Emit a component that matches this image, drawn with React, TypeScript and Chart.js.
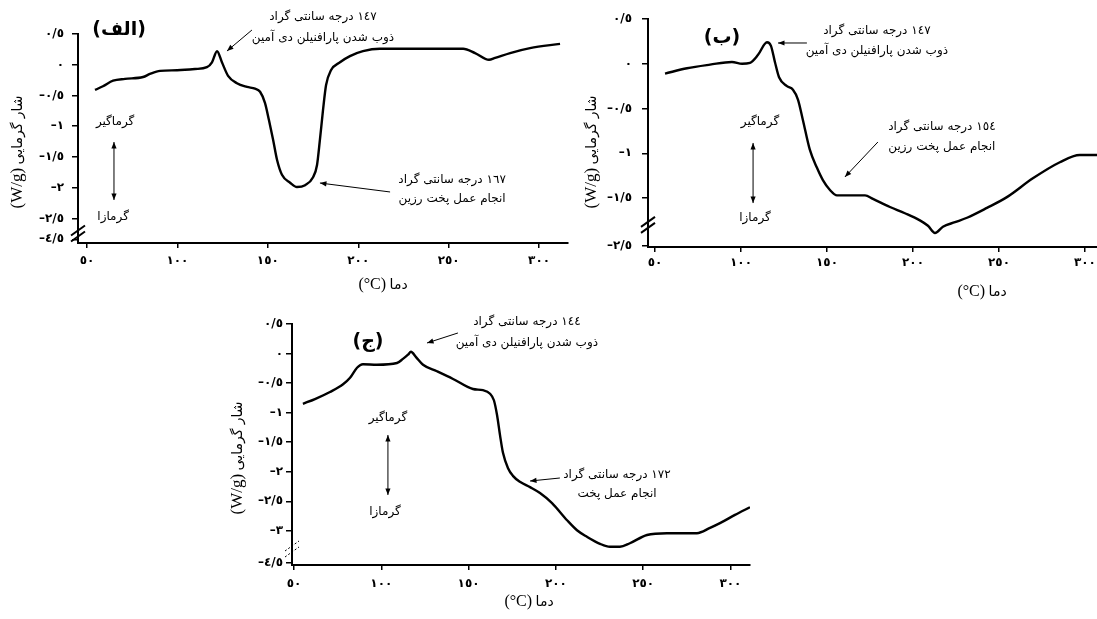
import React, { useEffect, useRef } from 'react';
import { Chart, registerables } from 'chart.js';

Chart.register(...registerables);

// ---------------- data ----------------
const tempA = [54.4, 58.8, 64.4, 71, 81, 84.8, 90.4, 99.8, 109.7, 116.3, 119.1, 121.9, 124.6, 128, 132.9, 138.5, 142.9, 145.7, 148.4, 150.6, 152.9, 155.1, 157.8, 162.3, 166.1, 170.6, 175, 177.2, 178.8, 180.5, 182.2, 184.9, 189.9, 195.4, 202.6, 212, 258, 264.6, 272.3, 275.7, 284, 295, 311.6];
const heatA = [-0.41, -0.35, -0.26, -0.23, -0.2, -0.15, -0.1, -0.09, -0.07, -0.04, 0.04, 0.22, 0.04, -0.18, -0.3, -0.36, -0.39, -0.44, -0.62, -0.9, -1.22, -1.55, -1.79, -1.92, -1.99, -1.96, -1.83, -1.63, -1.22, -0.74, -0.33, -0.09, 0.04, 0.14, 0.22, 0.26, 0.26, 0.19, 0.08, 0.11, 0.19, 0.27, 0.34];

const tempB = [55.8, 68.6, 82, 94.7, 100.6, 105.2, 109.9, 115.1, 117.4, 119.7, 122.1, 126.7, 130.2, 133.1, 136, 140, 144.1, 147.6, 151.7, 155.8, 169.2, 172.1, 176.7, 186.6, 195.3, 204, 208.7, 212.8, 217.4, 224.4, 231.4, 243, 254.6, 269.7, 285.4, 297, 307];
const heatB = [-0.11, -0.05, -0.01, 0.02, 0, 0.01, 0.1, 0.24, 0.2, 0.02, -0.15, -0.25, -0.29, -0.4, -0.63, -0.96, -1.16, -1.3, -1.41, -1.47, -1.47, -1.47, -1.51, -1.6, -1.67, -1.75, -1.81, -1.89, -1.82, -1.77, -1.72, -1.61, -1.49, -1.28, -1.1, -1.02, -1.02];

const tempC = [55.1, 62, 70.6, 78.1, 82.1, 86.1, 89.5, 97.5, 109, 112.4, 115.3, 117, 119.9, 123.9, 131.9, 141.1, 152.5, 158.2, 162.3, 164.5, 166.3, 168, 169.7, 172.6, 175.4, 179.4, 185.2, 190.9, 197.8, 206.4, 212.1, 217.8, 225.3, 231, 236.7, 242.4, 252.2, 263.6, 280.8, 288.3, 294, 302.6, 311.2];
const heatC = [-0.85, -0.77, -0.65, -0.52, -0.41, -0.24, -0.18, -0.19, -0.16, -0.09, -0.02, 0.03, -0.06, -0.19, -0.3, -0.43, -0.6, -0.62, -0.68, -0.79, -1.04, -1.38, -1.68, -1.94, -2.07, -2.17, -2.26, -2.36, -2.53, -2.82, -2.99, -3.1, -3.22, -3.27, -3.27, -3.21, -3.07, -3.04, -3.04, -2.95, -2.87, -2.73, -2.6];

const tempTicks = [50, 100, 150, 200, 250, 300];
const heatTicksA = [0.5, 0, -0.5, -1, -1.5, -2, -2.5];
const heatTicksB = [0.5, 0, -0.5, -1, -1.5];
const heatTicksC = [0.5, 0, -0.5, -1, -1.5, -2, -2.5, -3];
const breakLabelA = -4.5;
const breakLabelB = -2.5;
const breakLabelC = -4.5;

// ---------------- helpers ----------------
const AR_DIGITS = '٠١٢٣٤٥٦٧٨٩';
const toAr = (v: number) => {
  const s = String(Math.round(Math.abs(v) * 100) / 100).replace('.', '/');
  return (v < 0 ? '–' : '') + s.replace(/[0-9]/g, (c) => AR_DIGITS[+c]);
};

const SERIF = "'Liberation Serif', 'DejaVu Serif', serif";
const ARF = "'DejaVu Sans', sans-serif";

type Part = { text: string; font: string };

function drawRow(ctx: CanvasRenderingContext2D, parts: Part[], cx: number, cy: number) {
  const widths = parts.map((p) => {
    ctx.font = p.font;
    return ctx.measureText(p.text).width;
  });
  const total = widths.reduce((a, b) => a + b, 0);
  let x = cx - total / 2;
  ctx.textAlign = 'left';
  ctx.textBaseline = 'middle';
  ctx.direction = 'ltr';
  parts.forEach((p, i) => {
    ctx.font = p.font;
    ctx.fillText(p.text, x, cy);
    x += widths[i];
  });
}

function arrow(ctx: CanvasRenderingContext2D, x1: number, y1: number, x2: number, y2: number, both = false) {
  ctx.lineWidth = 1;
  ctx.beginPath();
  ctx.moveTo(x1, y1);
  ctx.lineTo(x2, y2);
  ctx.stroke();
  const head = (fx: number, fy: number, tx: number, ty: number) => {
    const a = Math.atan2(ty - fy, tx - fx);
    const L = 7;
    ctx.beginPath();
    ctx.moveTo(tx, ty);
    ctx.lineTo(tx - L * Math.cos(a - 0.38), ty - L * Math.sin(a - 0.38));
    ctx.lineTo(tx - L * Math.cos(a + 0.38), ty - L * Math.sin(a + 0.38));
    ctx.closePath();
    ctx.fill();
  };
  head(x1, y1, x2, y2);
  if (both) head(x2, y2, x1, y1);
}

const decorPlugin = {
  id: 'panelDecor',
  afterDraw(chart: any, _args: any, o: any) {
    const { ctx, chartArea: ca } = chart;
    const xs = chart.scales.x;
    const ys = chart.scales.y;
    const px = (t: number) => xs.getPixelForValue(t);
    const py = (v: number) => ys.getPixelForValue(v);
    ctx.save();
    ctx.fillStyle = '#000';
    ctx.strokeStyle = '#000';

    // panel title
    ctx.direction = 'rtl';
    ctx.textAlign = 'center';
    ctx.textBaseline = 'middle';
    ctx.font = `bold 19px ${ARF}`;
    ctx.fillText(o.title.text, px(o.title.t), py(o.title.v));

    // notes with arrows
    o.notes.forEach((n: any) => {
      ctx.direction = 'rtl';
      ctx.textAlign = 'center';
      ctx.textBaseline = 'middle';
      ctx.font = `12px ${ARF}`;
      n.lines.forEach((line: string, i: number) => {
        ctx.fillText(line, px(n.t), py(n.v) + i * n.gap);
      });
      arrow(ctx, px(n.from[0]), py(n.from[1]), px(n.to[0]), py(n.to[1]));
    });

    // endo / exo labels
    const e = o.endo;
    ctx.direction = 'rtl';
    ctx.textAlign = 'center';
    ctx.font = `12px ${ARF}`;
    ctx.fillText('گرماگیر', px(e.tUp), py(e.vUp));
    ctx.fillText('گرمازا', px(e.tDown), py(e.vDown));
    arrow(ctx, px(e.tArrow), py(e.a1), px(e.tArrow), py(e.a2), true);

    // axis break mark
    const b = o.brk;
    const bx = ca.left;
    const by = py(b.v);
    ctx.lineWidth = b.dashed ? 1 : 2;
    ctx.setLineDash(b.dashed ? [2, 2] : []);
    [-3, 3].forEach((k) => {
      ctx.beginPath();
      ctx.moveTo(bx - 7, by + 5 + k);
      ctx.lineTo(bx + 7, by - 5 + k);
      ctx.stroke();
    });
    ctx.setLineDash([]);

    // y title
    ctx.save();
    ctx.translate(ca.left + o.yTitle.dx, ca.top + o.yTitle.dy);
    ctx.rotate(-Math.PI / 2);
    drawRow(ctx, [
      { text: '(W/g)', font: `17px ${SERIF}` },
      { text: ' ', font: `14px ${SERIF}` },
      { text: 'شار گرمایی', font: `14px ${ARF}` },
    ], 0, 0);
    ctx.restore();

    // x title
    drawRow(ctx, [
      { text: '(°C)', font: `16px ${SERIF}` },
      { text: ' ', font: `14px ${SERIF}` },
      { text: 'دما', font: `14px ${ARF}` },
    ], ca.left + o.xTitle.dx, ca.bottom + o.xTitle.dy);

    ctx.restore();
  },
};

type PanelCfg = {
  box: { left: number; top: number; width: number; height: number };
  pad: { top: number; right: number };
  yW: number;
  xH: number;
  xMin: number;
  xMax: number;
  yMin: number;
  yMax: number;
  temps: number[];
  heats: number[];
  yTicks: number[];
  breakAt: number;
  breakLabel: number;
  yPad: number;
  xPad: number;
  decor: any;
};

const panels: PanelCfg[] = [
  {
    box: { left: 0, top: 0, width: 575, height: 300 },
    pad: { top: 34, right: 7 },
    yW: 78,
    xH: 57,
    xMin: 45,
    xMax: 316,
    yMin: -2.9,
    yMax: 0.5,
    temps: tempA,
    heats: heatA,
    yTicks: heatTicksA,
    breakAt: -2.84,
    breakLabel: breakLabelA,
    yPad: 8,
    xPad: 6,
    decor: {
      title: { text: '(الف)', t: 67.7, v: 0.565 },
      notes: [
        { lines: ['١٤٧ درجه سانتی گراد', 'ذوب شدن پارافنیلن دی آمین'], t: 180.5, v: 0.777, gap: 21, from: [141.2, 0.565], to: [127.4, 0.223] },
        { lines: ['١٦٧ درجه سانتی گراد', 'انجام عمل پخت رزین'], t: 251.9, v: -1.875, gap: 19, from: [217.6, -2.07], to: [178.8, -1.924] },
      ],
      endo: { tUp: 65.5, vUp: -0.932, tDown: 64.4, vDown: -2.477, tArrow: 64.9, a1: -1.257, a2: -2.2 },
      brk: { v: -2.745, dashed: false },
      yTitle: { dx: -60, dy: 118 },
      xTitle: { dx: 305, dy: 42 },
    },
  },
  {
    box: { left: 575, top: 0, width: 530, height: 300 },
    pad: { top: 19, right: 8 },
    yW: 73,
    xH: 53,
    xMin: 45.9,
    xMax: 307,
    yMin: -2.047,
    yMax: 0.5,
    temps: tempB,
    heats: heatB,
    yTicks: heatTicksB,
    breakAt: -2.03,
    breakLabel: breakLabelB,
    yPad: 10,
    xPad: 4,
    decor: {
      title: { text: '(ب)', t: 88.9, v: 0.288 },
      notes: [
        { lines: ['١٤٧ درجه سانتی گراد', 'ذوب شدن پارافنیلن دی آمین'], t: 179.0, v: 0.366, gap: 20, from: [138.3, 0.232], to: [121.5, 0.232] },
        { lines: ['١٥٤ درجه سانتی گراد', 'انجام عمل پخت رزین'], t: 216.8, v: -0.707, gap: 20, from: [179.6, -0.874], to: [160.4, -1.265] },
      ],
      endo: { tUp: 111.0, vUp: -0.651, tDown: 108.1, vDown: -1.723, tArrow: 107.0, a1: -0.885, a2: -1.556 },
      brk: { v: -1.8, dashed: false },
      yTitle: { dx: -56, dy: 133 },
      xTitle: { dx: 334, dy: 45 },
    },
  },
  {
    box: { left: 220, top: 300, width: 540, height: 319 },
    pad: { top: 24, right: 10 },
    yW: 72,
    xH: 54,
    xMin: 48.85,
    xMax: 311.2,
    yMin: -3.578,
    yMax: 0.5,
    temps: tempC,
    heats: heatC,
    yTicks: heatTicksC,
    breakAt: -3.545,
    breakLabel: breakLabelC,
    yPad: 3,
    xPad: 7,
    decor: {
      title: { text: '(ج)', t: 92.4, v: 0.195 },
      notes: [
        { lines: ['١٤٤ درجه سانتی گراد', 'ذوب شدن پارافنیلن دی آمین'], t: 183.4, v: 0.534, gap: 21, from: [143.9, 0.348], to: [126.2, 0.179] },
        { lines: ['١٧٢ درجه سانتی گراد', 'انجام عمل پخت'], t: 235.0, v: -2.055, gap: 19, from: [202.3, -2.106], to: [185.2, -2.157] },
      ],
      endo: { tUp: 103.8, vUp: -1.09, tDown: 102.1, vDown: -2.681, tArrow: 103.8, a1: -1.378, a2: -2.393 },
      brk: { v: -3.307, dashed: true },
      yTitle: { dx: -54, dy: 134 },
      xTitle: { dx: 237, dy: 37 },
    },
  },
];

const tickFont = { family: ARF, weight: 'bold' as const, size: 12 };

function Panel({ cfg }: { cfg: PanelCfg }) {
  const ref = useRef<HTMLCanvasElement>(null);
  useEffect(() => {
    const canvas = ref.current!;
    const isBreak = (v: number) => Math.abs(v - cfg.breakAt) < 1e-6;
    const chart = new Chart(canvas, {
      type: 'line',
      data: {
        datasets: [
          {
            data: cfg.temps.map((t, i) => ({ x: t, y: cfg.heats[i] })),
            borderColor: '#000',
            borderWidth: 2.4,
            pointRadius: 0,
            fill: false,
            cubicInterpolationMode: 'monotone',
          },
        ],
      },
      options: {
        animation: false,
        responsive: false,
        events: [],
        layout: { padding: { top: cfg.pad.top, right: cfg.pad.right, left: 0, bottom: 0 } },
        plugins: {
          legend: { display: false },
          tooltip: { enabled: false },
          panelDecor: cfg.decor,
        } as any,
        scales: {
          x: {
            type: 'linear',
            min: cfg.xMin,
            max: cfg.xMax,
            afterBuildTicks: (s: any) => {
              s.ticks = tempTicks.map((v) => ({ value: v }));
            },
            afterFit: (s: any) => {
              s.height = cfg.xH;
            },
            ticks: {
              autoSkip: false,
              maxRotation: 0,
              padding: cfg.xPad,
              color: '#000',
              font: tickFont,
              callback: (v: any) => toAr(Number(v)),
            },
            grid: { drawOnChartArea: false, drawTicks: true, tickLength: 5, color: '#000', lineWidth: 1.5 },
            border: { display: true, color: '#000', width: 2 },
          },
          y: {
            type: 'linear',
            min: cfg.yMin,
            max: cfg.yMax,
            afterBuildTicks: (s: any) => {
              s.ticks = [...cfg.yTicks, cfg.breakAt].map((v) => ({ value: v }));
            },
            afterFit: (s: any) => {
              s.width = cfg.yW;
            },
            ticks: {
              autoSkip: false,
              padding: cfg.yPad,
              color: '#000',
              font: tickFont,
              callback: (v: any) => (isBreak(Number(v)) ? toAr(cfg.breakLabel) : toAr(Number(v))),
            },
            grid: { drawOnChartArea: false, drawTicks: true, tickLength: 6, color: '#000', lineWidth: 1.5 },
            border: { display: true, color: '#000', width: 2 },
          },
        },
      } as any,
      plugins: [decorPlugin as any],
    });
    return () => chart.destroy();
  }, [cfg]);
  return (
    <canvas
      ref={ref}
      width={cfg.box.width}
      height={cfg.box.height}
      style={{
        position: 'absolute',
        left: cfg.box.left,
        top: cfg.box.top,
        width: cfg.box.width,
        height: cfg.box.height,
      }}
    />
  );
}

export default function App() {
  return (
    <div
      style={{
        position: 'absolute',
        left: 0,
        top: 0,
        width: 1097,
        height: 619,
        overflow: 'hidden',
        background: '#fff',
      }}
    >
      {panels.map((p, i) => (
        <Panel key={i} cfg={p} />
      ))}
    </div>
  );
}
